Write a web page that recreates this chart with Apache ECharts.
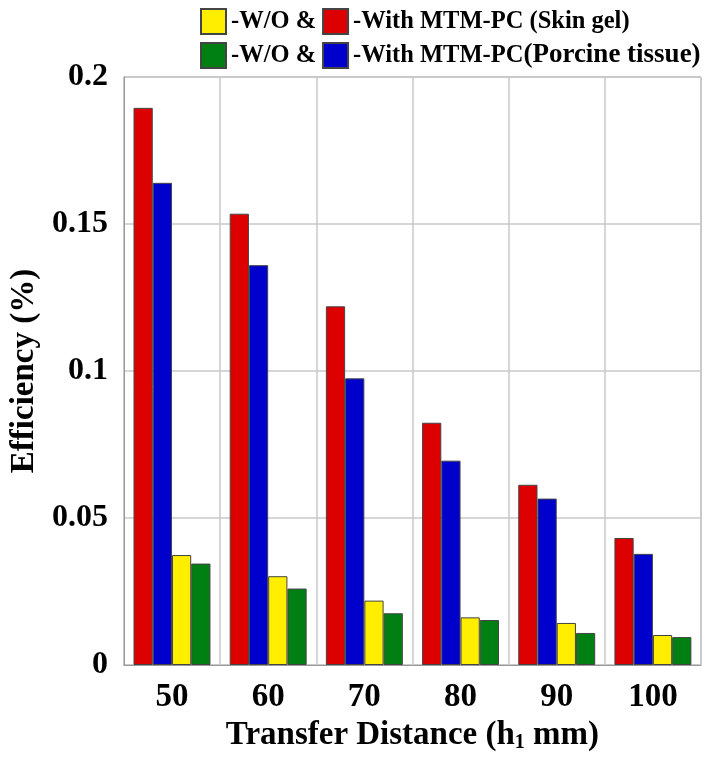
<!DOCTYPE html>
<html>
<head>
<meta charset="utf-8">
<script src="https://cdn.jsdelivr.net/npm/echarts@6/dist/echarts.min.js"></script>
<style>
html,body{margin:0;padding:0;background:#fff;}
#chart{width:708px;height:758px;}
</style>
</head>
<body>
<div id="chart"></div>
<script>
// Data
var categories = ['50', '60', '70', '80', '90', '100'];
var withSkinGel = [0.1895, 0.1535, 0.1220, 0.0824, 0.0613, 0.0432];
var withPorcine = [0.1640, 0.1360, 0.0975, 0.0695, 0.0566, 0.0378];
var woSkinGel = [0.0374, 0.0302, 0.0219, 0.0162, 0.0143, 0.0102];
var woPorcine = [0.0345, 0.0260, 0.0176, 0.0153, 0.0109, 0.0095];
var yTicks = [0, 0.05, 0.1, 0.15, 0.2];
var legendText = {
  'W/O Skin gel': '{a|-W/O &}',
  'With Skin gel': '{a|-With MTM-PC (Skin gel)}',
  'W/O Porcine': '{a|-W/O &}',
  'With Porcine': '{a|-With MTM-PC}{b|(Porcine tissue)}'
};

var FONT = '"Liberation Serif", "Times New Roman", serif';
var chart = echarts.init(document.getElementById('chart'), null, {renderer: 'canvas'});

function bar(name, data, color) {
  return {
    name: name,
    type: 'bar',
    data: data,
    barGap: '0%',
    barCategoryGap: '20%',
    itemStyle: {color: color, borderColor: '#444', borderWidth: 1},
    emphasis: {disabled: true}
  };
}

var legendCommon = {
  left: 200,
  width: 900,
  orient: 'horizontal',
  padding: 0,
  itemWidth: 25,
  itemHeight: 25,
  itemGap: 6,
  icon: 'rect',
  selectedMode: false,
  formatter: function (n) { return legendText[n]; },
  textStyle: {
    fontFamily: FONT, fontWeight: 'bold', fontSize: 24.5, color: '#000',
    rich: {
      a: {fontFamily: FONT, fontWeight: 'bold', fontSize: 24.5, color: '#000'},
      b: {fontFamily: FONT, fontWeight: 'bold', fontSize: 27, color: '#000'}
    }
  }
};

var option = {
  backgroundColor: '#fff',
  animation: false,
  legend: [
    Object.assign({}, legendCommon, {top: 8, data: ['W/O Skin gel', 'With Skin gel']}),
    Object.assign({}, legendCommon, {top: 42, data: ['W/O Porcine', 'With Porcine']})
  ],
  grid: {left: 111, right: 7, top: 77, bottom: 93, show: true, borderColor: '#999', borderWidth: 1, backgroundColor: 'transparent'},
  xAxis: {
    type: 'category',
    data: categories,
    boundaryGap: true,
    axisLine: {show: true, lineStyle: {color: '#999'}},
    axisTick: {show: false},
    splitLine: {show: true, interval: 0, lineStyle: {color: '#c8c8c8', width: 1.5}},
    axisLabel: {fontFamily: FONT, fontWeight: 'bold', fontSize: 33, color: '#000', margin: 16},
    name: '{t|Transfer Distance (h}{s|1}{t| mm)}',
    nameLocation: 'middle',
    nameGap: 52,
    nameTextStyle: {
      rich: {
        t: {fontFamily: FONT, fontWeight: 'bold', fontSize: 33, color: '#000'},
        s: {fontFamily: FONT, fontWeight: 'bold', fontSize: 20, color: '#000', verticalAlign: 'bottom', padding: [14, 0, 0, 0]}
      }
    }
  },
  yAxis: {
    type: 'value',
    min: 0,
    max: 0.2,
    interval: 0.05,
    axisLine: {show: true, lineStyle: {color: '#999'}},
    axisTick: {show: false},
    splitLine: {show: true, lineStyle: {color: '#c8c8c8', width: 1.5}},
    axisLabel: {
      fontFamily: FONT, fontWeight: 'bold', fontSize: 32, color: '#000', margin: 16,
      formatter: function (v) {
        for (var i = 0; i < yTicks.length; i++) { if (Math.abs(yTicks[i] - v) < 1e-9) return String(yTicks[i]); }
        return '';
      }
    },
    name: 'Efficiency (%)',
    nameLocation: 'middle',
    nameGap: 80,
    nameTextStyle: {fontFamily: FONT, fontWeight: 'bold', fontSize: 33, color: '#000'}
  },
  series: [
    bar('With Skin gel', withSkinGel, '#dd0000'),
    bar('With Porcine', withPorcine, '#0000cc'),
    bar('W/O Skin gel', woSkinGel, '#ffee00'),
    bar('W/O Porcine', woPorcine, '#008012')
  ]
};
chart.setOption(option);
</script>
</body>
</html>
